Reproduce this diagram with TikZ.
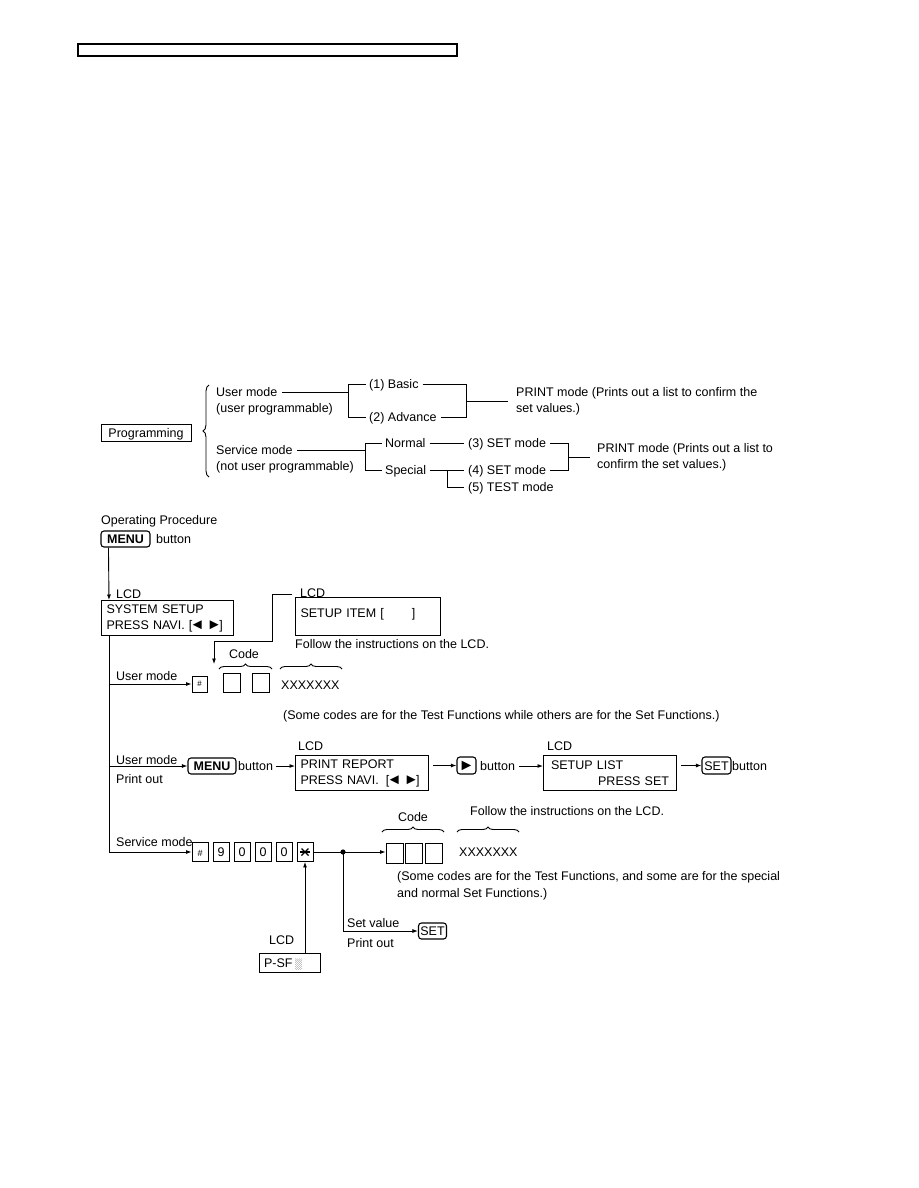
\documentclass[tikz,border=0pt]{standalone}
\usepackage{fontspec}
\setmainfont{Liberation Sans}
\usetikzlibrary{arrows.meta,calc,decorations.pathreplacing}
\newcommand{\fs}{\fontsize{12.5}{16}\selectfont}
\newcommand{\tri}[1]{\smash{\makebox[10pt]{\fontsize{15}{15}\selectfont #1}}}
\tikzset{
 txt/.style={inner sep=0pt, text height=9pt, text depth=0pt, anchor=west, font=\fs},
 lcdbox/.style={draw, line width=1pt, anchor=north west, align=left, inner xsep=5pt, inner ysep=0pt, font=\fs},
 keybox/.style={draw, rounded corners=3pt, line width=1.1pt, inner sep=0pt, text height=9pt, text depth=0pt, font=\fs},
 digit/.style={draw, line width=0.9pt, minimum width=16pt, minimum height=19pt, inner sep=0pt, text height=9pt, text depth=0pt, font=\fs},
 ln/.style={line width=0.9pt},
 arr/.style={line width=0.9pt, -{Latex[length=5.5pt,width=4pt]}},
 brc/.style={decorate, decoration={brace, amplitude=5pt}, line width=0.9pt},
}
\begin{document}
\begin{tikzpicture}[x=1pt,y=-1pt]
\fill[white] (0,0) rectangle (918,1188);
\useasboundingbox (0,0) rectangle (918,1188);

% top bar
\draw[line width=1.3pt] (78,44) rectangle (457,56);

% ---------- programming tree ----------
\node[draw, line width=1pt, minimum width=90pt, minimum height=17pt, inner sep=0pt, text height=9pt, text depth=0pt, font=\fs] (prog) at (146,432.5) {Programming};
\draw[brc, decoration={brace, amplitude=6pt}] (209,477) -- (209,385);
\node[txt] (um) at (216,392) {User mode};
\node[txt] (up) at (216,408) {(user programmable)};
\node[txt] (basic) at (369,384) {(1) Basic};
\node[txt] (adv) at (369,417) {(2) Advance};
\node[txt] (pm1) at (516,392) {PRINT mode (Prints out a list to confirm the};
\node[txt] (pm1b) at (516,408) {set values.)};
\draw[ln] ([xshift=4pt]um.east) -- (348,392);
\draw[ln] ([xshift=-3pt]basic.west) -- (348,384) -- (348,417) -- ([xshift=-3pt]adv.west);
\draw[ln] ([xshift=4pt]basic.east) -- (466,384) -- (466,417) -- ([xshift=4pt]adv.east);
\draw[ln] (466,401) -- ([xshift=-8pt]pm1.west |- 0,401);

\node[txt] (sm) at (216,450) {Service mode};
\node[txt] (nup) at (216,466) {(not user programmable)};
\node[txt] (normal) at (385,443) {Normal};
\node[txt] (special) at (385,470) {Special};
\node[txt] (set3) at (468,443) {(3) SET mode};
\node[txt] (set4) at (468,470) {(4) SET mode};
\node[txt] (test5) at (468,487) {(5) TEST mode};
\node[txt] (pm2) at (597,448) {PRINT mode (Prints out a list to};
\node[txt] (pm2b) at (597,464) {confirm the set values.)};
\draw[ln] ([xshift=4pt]sm.east) -- (365,450);
\draw[ln] ([xshift=-3pt]normal.west) -- (365,443) -- (365,470) -- ([xshift=-3pt]special.west);
\draw[ln] ([xshift=4pt]normal.east) -- ([xshift=-4pt]set3.west);
\draw[ln] ([xshift=4pt]special.east) -- ([xshift=-4pt]set4.west);
\draw[ln] (447,470) -- (447,487) -- ([xshift=-4pt]test5.west);
\draw[ln] ([xshift=4pt]set3.east) -- (568,443) -- (568,470) -- ([xshift=4pt]set4.east);
\draw[ln] (568,457) -- ([xshift=-7pt]pm2.west |- 0,457);

% ---------- operating procedure ----------
\node[txt] (op) at (101,520) {Operating Procedure};
\node[keybox, minimum width=49pt, minimum height=16pt, font=\fs\bfseries] (menu1) at (125.5,539) {MENU};
\node[txt] (btn1) at (156,539) {button};
\node[txt] (lcd1) at (116,594) {LCD};
\node[lcdbox, minimum width=132pt, minimum height=35pt, text width=122pt] (sys) at (101,600) {SYSTEM SETUP\\\mbox{PRESS NAVI. [\tri{◄}\hspace{7pt}\tri{►}]}};
\draw[arr] ($(menu1.south west)+(8,0)$) -- ($(sys.north west)+(8,0)$);

% user mode branch
\node[txt] (ul1) at (116,676) {User mode};
\node[draw, line width=0.9pt, minimum width=15pt, minimum height=16pt, inner sep=0pt, font=\fontsize{8}{8}\selectfont] (hash1) at (199.5,684) {\#};
\node[digit, minimum width=17pt] (c1) at (231.5,682.5) {};
\node[digit, minimum width=17pt] (c2) at (261,682.5) {};
\draw[brc] (219,669) -- (272,669);
\node[font=\fs, inner sep=0pt] (code1) at (244,654) {Code};
\node[txt] (xs1) at (281,685) {XXXXXXX};
\draw[brc] (280,669) -- (342,669);
\node[txt] (follow1) at (295,644) {Follow the instructions on the LCD.};
\node[txt] (lcd2) at (300,593) {LCD};
\node[lcdbox, minimum width=145pt, text height=9pt, text depth=8pt, inner ysep=10.5pt, text width=135pt] (item) at (295,597) {SETUP ITEM [\hspace{28pt}]};
\coordinate (e0) at (292,594);
\draw[arr] (e0) -- (272,594) -- (272,641) -- (214,641) -- (214,664);
\node[txt] (note1) at (283,715) {(Some codes are for the Test Functions while others are for the Set Functions.)};

% print out branch
\node[txt] (ul2) at (116,760) {User mode};
\node[txt] (po1) at (116,779) {Print out};
\node[keybox, minimum width=48pt, minimum height=16pt, font=\fs\bfseries] (menu2) at (212,766) {MENU};
\node[txt] (btn2) at (238,766) {button};
\node[txt] (lcd3) at (298,746) {LCD};
\node[lcdbox, minimum width=133pt, minimum height=35pt, text width=123pt] (rep) at (295,755) {PRINT REPORT\\\mbox{PRESS NAVI.\hspace{7pt}[\tri{◄}\hspace{7pt}\tri{►}]}};
\draw[arr] ([xshift=3pt]btn2.east) -- (btn2.east -| rep.west);
\node[keybox, minimum width=19pt, minimum height=17pt, font=\fontsize{16}{16}\selectfont] (play) at (466.5,765.5) {►};
\draw[arr] (rep.east |- play.west) ++(4,0) -- (play.west);
\node[txt] (btn3) at (480,766) {button};
\node[txt] (lcd4) at (547,746) {LCD};
\node[lcdbox, minimum width=133pt, minimum height=35pt, text width=118pt] (list) at (543,755) {SETUP LIST\\\hspace*{\fill}PRESS SET};
\draw[arr] ([xshift=4pt]btn3.east) -- (btn3.east -| list.west);
\node[keybox, minimum width=29pt, minimum height=17pt] (set1) at (716.5,765.5) {SET};
\draw[arr] (list.east |- set1.west) ++(4,0) -- (set1.west);
\node[txt] (btn4) at (732,766) {button};

% service mode branch
\node[txt] (sml) at (116,842) {Service mode};
\node[digit] (hash2) at (200,852) {\fontsize{9}{9}\selectfont\#};
\node[digit] (d9) at (221,852) {9};
\node[digit] (d0a) at (242,852) {0};
\node[digit] (d0b) at (263,852) {0};
\node[digit] (d0c) at (284,852) {0};
\node[digit, path picture={
  \draw[line width=1.1pt] ($(path picture bounding box.center)+(-5,0)$) -- ++(10,0);
  \draw[line width=1.1pt] ($(path picture bounding box.center)+(-3.5,-3.5)$) -- ++(7,7);
  \draw[line width=1.1pt] ($(path picture bounding box.center)+(-3.5,3.5)$) -- ++(7,-7);
}] (star) at (305,852) {};
\coordinate (v0) at ($(sys.south west)+(8,0)$);
\draw[arr] (v0) -- (v0 |- hash2.west) -- (hash2.west);
\draw[arr] (v0 |- hash1.west) -- (hash1.west);
\draw[arr] (v0 |- menu2.west) -- (menu2.west);

\node[digit, minimum width=17pt, minimum height=20pt] (cc1) at (394.5,853) {};
\node[digit, minimum width=17pt, minimum height=20pt] (cc2) at (413.5,853) {};
\node[digit, minimum width=17pt, minimum height=20pt] (cc3) at (433.5,853) {};
\draw[brc] (382,832) -- (444,832);
\node[font=\fs, inner sep=0pt] (code2) at (413,817) {Code};
\node[txt] (xs2) at (459,852) {XXXXXXX};
\draw[brc] (457,832) -- (519,832);
\node[txt] (follow2) at (470,811) {Follow the instructions on the LCD.};
\node[txt] (note2a) at (397,876) {(Some codes are for the Test Functions, and some are for the special};
\node[txt] (note2b) at (397,893) {and normal Set Functions.)};

\coordinate (j) at (343,852);
\draw[arr] (star.east) -- (cc1.west |- star.east);
\fill (j) circle (2.6pt);
\node[keybox, minimum width=28pt, minimum height=16pt] (set2) at (432.5,931) {SET};
\draw[arr] (j) -- (j |- set2.west) -- (set2.west);
\node[txt] (setv) at (347,923) {Set value};
\node[txt] (po2) at (347,943) {Print out};

\node[txt] (lcd5) at (269,940) {LCD};
\node[draw, line width=1pt, minimum width=61pt, minimum height=19pt, inner xsep=5pt, inner ysep=0pt, text height=9pt, text depth=0pt, text width=51pt, align=left, font=\fs] (psf) at (289.5,962.5) {P-SF\,{\fontsize{10}{10}\selectfont ░}};
\draw[arr] (psf.north -| star.south) -- (star.south);
\end{tikzpicture}
\end{document}
